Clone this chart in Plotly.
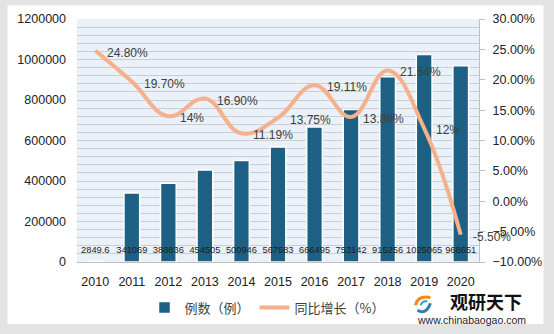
import plotly.graph_objects as go

years = ["2010", "2011", "2012", "2013", "2014", "2015", "2016", "2017", "2018", "2019", "2020"]
cases = [2849.6, 341069, 388836, 454505, 500946, 567583, 666495, 753142, 915256, 1025065, 968651]
case_labels = ["2849.6", "341069", "388836", "454505", "500946", "567583", "666495", "753142", "915256", "1025065", "968651"]
growth = [24.80, 19.70, 14, 16.90, 11.19, 13.75, 19.11, 13.88, 21.54, 12, -5.50]
growth_labels = ["24.80%", "19.70%", "14%", "16.90%", "11.19%", "13.75%", "19.11%", "13.88%", "21.54%", "12%", "-5.50%"]

W, H = 554, 334
FONT = "Liberation Sans"
CJK = "Noto Sans CJK SC"
TXT = "#404040"

idx = list(range(len(years)))

fig = go.Figure()

fig.add_trace(go.Bar(
    x=idx, y=cases, name="例数（例）",
    marker=dict(color="#1d6083", line=dict(color="white", width=1.5)),
    width=0.43, yaxis="y",
))
# bar value labels along the bottom
fig.add_trace(go.Scatter(
    x=idx, y=[58000] * len(years), mode="text", text=case_labels,
    textfont=dict(size=9.3, color="#1e1e1e", family=FONT), showlegend=False,
    hoverinfo="skip", yaxis="y", cliponaxis=False,
))
fig.add_trace(go.Scatter(
    x=idx, y=growth, name="同比增长（%）", mode="lines",
    line=dict(color="#f6b08c", width=4, shape="spline", smoothing=1.2),
    yaxis="y2", cliponaxis=False,
))

def px_x(px):
    return (px - 77) / 405

def px_y(py):
    return (264 - py) / 247

shapes = [
    dict(type="rect", xref="paper", yref="paper", x0=px_x(7), x1=px_x(547),
         y0=px_y(327), y1=px_y(3), fillcolor="white", line=dict(width=0), layer="below"),
    dict(type="rect", xref="paper", yref="paper", x0=0, x1=1, y0=0, y1=1,
         fillcolor="#eaf1f8", line=dict(width=0), layer="below"),
    # logo swirl
    dict(type="path", xref="paper", yref="paper",
         path=f"M {px_x(418)},{px_y(308)} Q {px_x(420)},{px_y(298)} {px_x(433)},{px_y(300)}",
         line=dict(color="#f08a1c", width=3)),
    dict(type="path", xref="paper", yref="paper",
         path=f"M {px_x(420)},{px_y(313)} Q {px_x(429)},{px_y(318)} {px_x(433)},{px_y(306)}",
         line=dict(color="#2a7fb8", width=3)),
    dict(type="path", xref="paper", yref="paper",
         path=f"M {px_x(423)},{px_y(308)} Q {px_x(425)},{px_y(303)} {px_x(430)},{px_y(304)}",
         line=dict(color="#2a9fd8", width=2)),
]

annotations = [
    dict(text="<b>观研天下</b>", x=px_x(489), y=px_y(304), xref="paper", yref="paper",
         showarrow=False, font=dict(family=CJK, size=18, color="#111111"), xanchor="center", yanchor="middle"),
    dict(text="www.chinabaogao.com", x=px_x(474), y=px_y(323), xref="paper", yref="paper",
         showarrow=False, font=dict(family=FONT, size=10.5, color="#222222"), xanchor="center", yanchor="middle"),
]
for i, g, lab in zip(idx, growth, growth_labels):
    annotations.append(dict(
        x=i, y=g, xref="x", yref="y2", text=lab, showarrow=False,
        xanchor="left", yanchor="middle", xshift=10, yshift=-2,
        font=dict(family=FONT, size=12, color=TXT),
    ))

fig.update_layout(
    width=W, height=H,
    margin=dict(l=77, r=72, t=17, b=70),
    paper_bgcolor="#e3e3e3", plot_bgcolor="rgba(0,0,0,0)",
    font=dict(family=FONT, color=TXT, size=12.5),
    xaxis=dict(range=[-0.5, len(years) - 0.5], tickvals=idx, ticktext=years,
               showline=True, linecolor="#bfbfbf", linewidth=1, zeroline=False,
               tickfont=dict(size=12.5, color="#222222"), ticks="", showgrid=False,
               ticklabelstandoff=8),
    yaxis=dict(range=[0, 1200000], dtick=200000, showgrid=True, gridcolor="#c9ced4",
               gridwidth=1.2, minor=dict(dtick=40000, showgrid=True, gridcolor="#c9ced4", gridwidth=1.2),
               tickfont=dict(size=12.5, color="#222222"), zeroline=False, showline=False,
               tickformat="d", ticks="", ticklabelstandoff=10),
    yaxis2=dict(range=[-10, 30], dtick=5, overlaying="y", side="right", showgrid=False,
                tickformat=".2f", ticksuffix="%", showline=True, linecolor="#bfbfbf",
                ticks="outside", ticklen=5, tickcolor="#bfbfbf", ticklabelstandoff=5,
                tickfont=dict(size=12.5, color="#222222"), zeroline=False),
    legend=dict(orientation="h", x=px_x(145), y=px_y(295), xanchor="left", yanchor="top",
                bgcolor="white", font=dict(family=CJK, size=13, color=TXT),
                traceorder="normal"),
    shapes=shapes, annotations=annotations,
)

fig.write_html("out.html")
